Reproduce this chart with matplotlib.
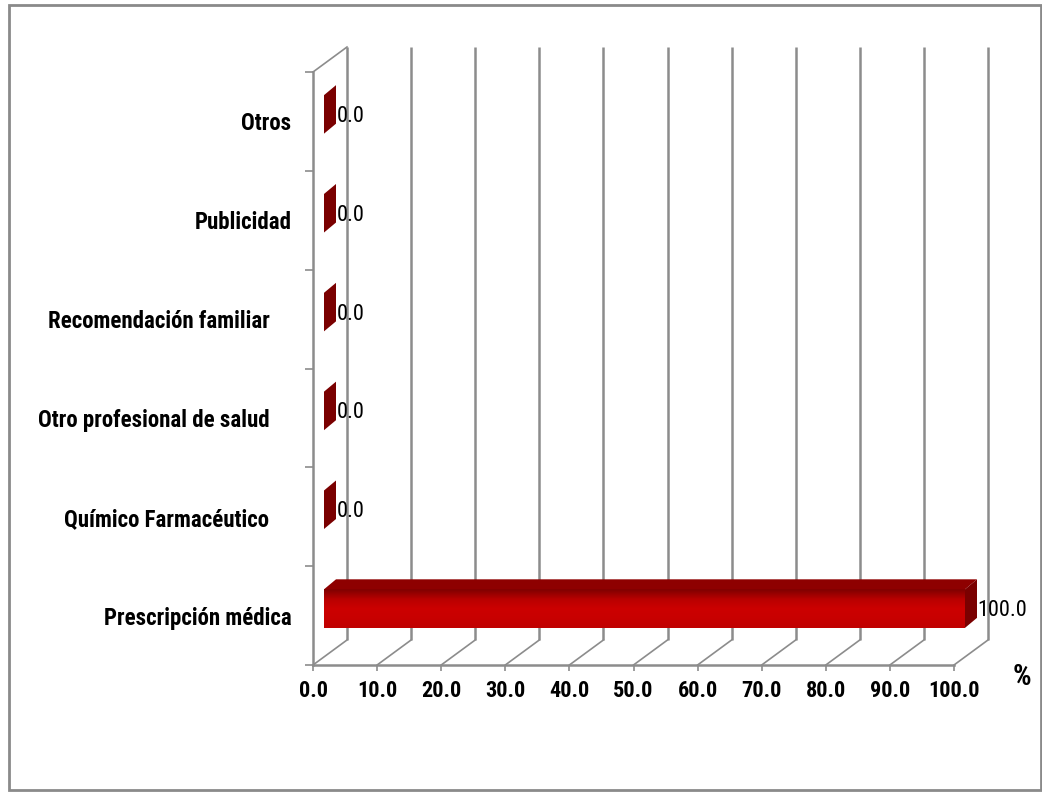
import numpy as np
import matplotlib
matplotlib.use("Agg")
import matplotlib.pyplot as plt
from matplotlib import font_manager
from matplotlib.patches import Polygon, Rectangle
from matplotlib.colors import LinearSegmentedColormap
from matplotlib.transforms import ScaledTranslation

categories = ["Prescripción médica", "Químico Farmacéutico", "Otro profesional de salud",
              "Recomendación familiar", "Publicidad", "Otros"]
values = [100.0, 0.0, 0.0, 0.0, 0.0, 0.0]
xticks = [0, 10, 20, 30, 40, 50, 60, 70, 80, 90, 100]
xticklabels = ["0.0", "10.0", "20.0", "30.0", "40.0", "50.0", "60.0", "70.0", "80.0", "90.0", "100.0"]

# horizontal shift (pixels) of some category labels, as in the reference layout
label_shift_px = [0, 22, 22, 22, 0, 0]

available = {f.name for f in font_manager.fontManager.ttflist}
main_font = "DejaVu Sans"
for cand in ["Liberation Sans Narrow", "DejaVu Sans Condensed", "Roboto Condensed",
             "Liberation Sans", "Arial"]:
    if cand in available:
        main_font = cand
        break
FONT = [main_font, "DejaVu Sans"]
plt.rcParams['font.family'] = FONT
narrow = main_font in ("Liberation Sans Narrow", "DejaVu Sans Condensed", "Roboto Condensed")
fs_lab = 16.5 if narrow else 12
fs_tick = 16 if narrow else 12
fs_val = 16 if narrow else 12.5

W, H = 1042, 792
fig = plt.figure(figsize=(W / 100, H / 100), dpi=100)
fig.patch.set_facecolor("white")

L, R, B, T = 313, 954, 665, 72
ax = fig.add_axes([L / W, 1 - B / H, (R - L) / W, (B - T) / H])
ax.set_xlim(0, 100)
ax.set_ylim(-0.5, 5.5)
ax.set_facecolor("none")

pxx = (R - L) / 100.0
pxy = (B - T) / 6.0
wdx, wdy = 34 / pxx, 25 / pxy
bfx, bfy = 11 / pxx, 7 / pxy
bbx, bby = 23 / pxx, 17 / pxy

grid_c = "#8c8c8c"
for x in xticks:
    ax.plot([x + wdx, x + wdx], [-0.5 + wdy, 5.5 + wdy], color=grid_c, lw=1.8,
            clip_on=False, zorder=1, solid_capstyle="butt")
    ax.plot([x, x + wdx], [-0.5, -0.5 + wdy], color=grid_c, lw=1.2, clip_on=False, zorder=1)
ax.plot([0, wdx], [5.5, 5.5 + wdy], color=grid_c, lw=1.2, clip_on=False, zorder=1)

grad = LinearSegmentedColormap.from_list("g", ["#7e0000", "#b80000", "#cc0000", "#c80000", "#c00000"])
bh = 0.39
for i, v in enumerate(values):
    y0, y1 = i - bh / 2, i + bh / 2
    x0, x1 = 0.0, v
    if v > 0:
        img = np.linspace(0, 1, 64).reshape(-1, 1)
        ax.imshow(img, cmap=grad, aspect="auto", origin="upper",
                  extent=[x0 + bfx, x1 + bfx, y0 + bfy, y1 + bfy], zorder=3, clip_on=False)
        ax.add_patch(Polygon([[x0 + bfx, y1 + bfy], [x1 + bfx, y1 + bfy],
                              [x1 + bbx, y1 + bby], [x0 + bbx, y1 + bby]],
                             closed=True, facecolor="#8e0000", edgecolor="none",
                             zorder=3, clip_on=False))
    ax.add_patch(Polygon([[x1 + bfx, y0 + bfy], [x1 + bbx, y0 + bby],
                          [x1 + bbx, y1 + bby], [x1 + bfx, y1 + bfy]],
                         closed=True, facecolor="#7a0000", edgecolor="none",
                         zorder=4, clip_on=False))
    ax.text(x1 + bbx + 0.1, i + 0.05, f"{v:.1f}", ha="left", va="center",
            fontsize=fs_val, color="black", family=FONT, zorder=5, clip_on=False)

for s in ["top", "right"]:
    ax.spines[s].set_visible(False)
for s in ["left", "bottom"]:
    ax.spines[s].set_color(grid_c)
    ax.spines[s].set_linewidth(1.8)

ax.set_xticks(xticks)
ax.set_xticklabels(xticklabels, fontsize=fs_tick, fontweight="bold", family=FONT)
ax.tick_params(axis="x", length=4, width=1.2, color=grid_c, pad=7)

ax.set_yticks(range(len(categories)))
ax.set_yticklabels(categories, fontsize=fs_lab, fontweight="bold", family=FONT)
ax.set_yticks(np.arange(-0.5, 6.0, 1.0), minor=True)
ax.tick_params(axis="y", which="major", length=0, pad=15.5)
ax.tick_params(axis="y", which="minor", length=6, width=1.2, color=grid_c)
for lab, sh in zip(ax.get_yticklabels(), label_shift_px):
    lab.set_transform(lab.get_transform() + ScaledTranslation(-sh / 100, 0, fig.dpi_scale_trans))

fig.text(1022 / W, 1 - 677 / H, "%", fontsize=21, fontweight="bold", family=FONT,
         ha="center", va="center")

fig.add_artist(Rectangle((9 / W, 1 - 790 / H), (1041 - 9) / W, (790 - 5) / H,
                         transform=fig.transFigure, fill=False, edgecolor="#8a8a8a", lw=2))

fig.savefig("out.png", dpi=100, facecolor="white")
